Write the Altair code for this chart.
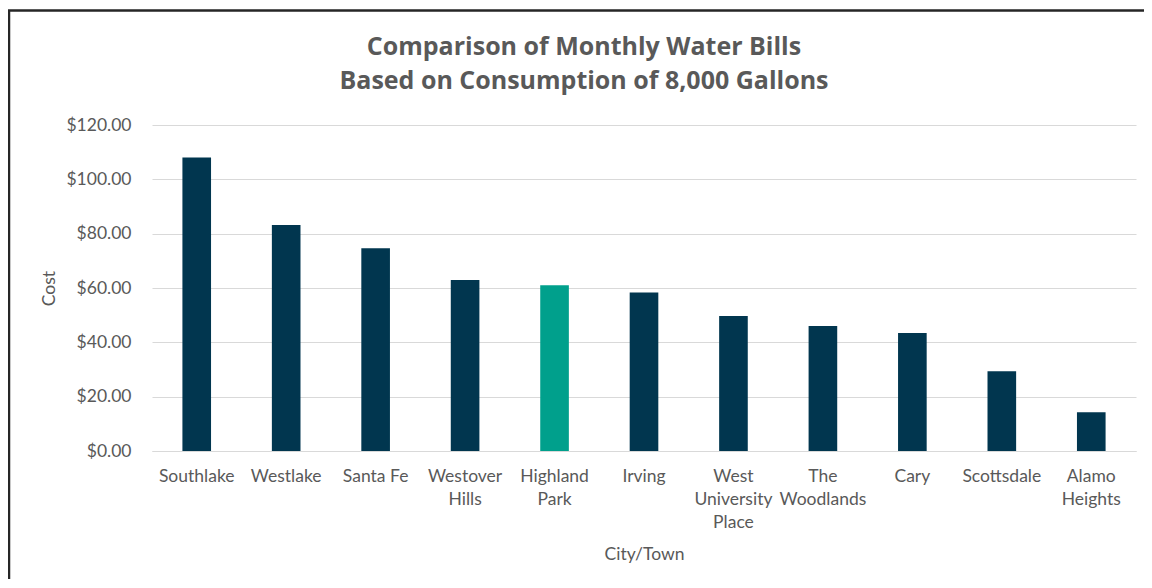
import altair as alt
import pandas as pd

cities = ["Southlake", "Westlake", "Santa Fe", "Westover Hills", "Highland Park",
          "Irving", "West University Place", "The Woodlands", "Cary", "Scottsdale",
          "Alamo Heights"]
costs = [108.0, 83.2, 74.6, 62.9, 61.0, 58.3, 49.7, 46.0, 43.4, 29.4, 14.3]
highlight = ["other", "other", "other", "other", "highlight",
             "other", "other", "other", "other", "other", "other"]
title_lines = ["Comparison of Monthly Water Bills", "Based on Consumption of 8,000 Gallons"]

df = pd.DataFrame({"city": cities, "cost": costs, "group": highlight})

FONT = "Lato"
TFONT = "Open Sans"
GREY = "#595959"
LBL = 17.5

bars = alt.Chart(df).mark_bar().encode(
    x=alt.X("city:N", sort=cities, title="City/Town",
            scale=alt.Scale(paddingInner=0.68, paddingOuter=0.34),
            axis=alt.Axis(labelAngle=0, labelFontSize=LBL, labelColor=GREY, labelFont=FONT,
                          labelExpr="datum.label == 'Santa Fe' ? datum.label : split(datum.label, ' ')",
                          labelLineHeight=23, labelPadding=16, ticks=False,
                          domain=True, domainColor="#d9d9d9", domainWidth=1,
                          titleFontSize=LBL, titleColor=GREY, titleFont=FONT,
                          titleFontWeight="normal", titlePadding=15, labelBaseline="top")),
    y=alt.Y("cost:Q", title="Cost",
            scale=alt.Scale(domain=[0, 120], nice=False),
            axis=alt.Axis(format="$.2f", values=[0, 20, 40, 60, 80, 100, 120],
                          labelFontSize=LBL, labelColor=GREY, labelFont=FONT,
                          labelPadding=21, ticks=False, domain=False,
                          gridColor="#d9d9d9", gridWidth=1,
                          titleFontSize=LBL, titleColor=GREY, titleFont=FONT,
                          titleFontWeight="normal", titlePadding=7)),
    color=alt.Color("group:N", legend=None,
                    scale=alt.Scale(domain=["other", "highlight"],
                                    range=["#01364f", "#00a08c"])),
)

border = alt.Chart(pd.DataFrame({"a": [0]})).mark_rect(
    fill=None, stroke="#262626", strokeWidth=2.5
).encode(
    x=alt.value(-143), x2=alt.value(1010), y=alt.value(-114.5), y2=alt.value(480)
)

title1 = alt.Chart(pd.DataFrame({"t": [title_lines[0]]})).mark_text(
    font=TFONT, fontSize=25, fontWeight="bold", color=GREY, align="center", baseline="middle"
).encode(text="t:N", x=alt.value(432), y=alt.value(-78))

title2 = alt.Chart(pd.DataFrame({"t": [title_lines[1]]})).mark_text(
    font=TFONT, fontSize=25, fontWeight="bold", color=GREY, align="center", baseline="middle"
).encode(text="t:N", x=alt.value(432), y=alt.value(-44))

chart = alt.layer(border, bars, title1, title2).properties(
    width=984,
    height=326,
    padding={"left": 144, "top": 117, "right": 8, "bottom": 128},
    autosize=alt.AutoSizeParams(type="none"),
).configure_view(stroke=None)

chart.save("out.html", embed_options={"renderer": "svg", "actions": False})
